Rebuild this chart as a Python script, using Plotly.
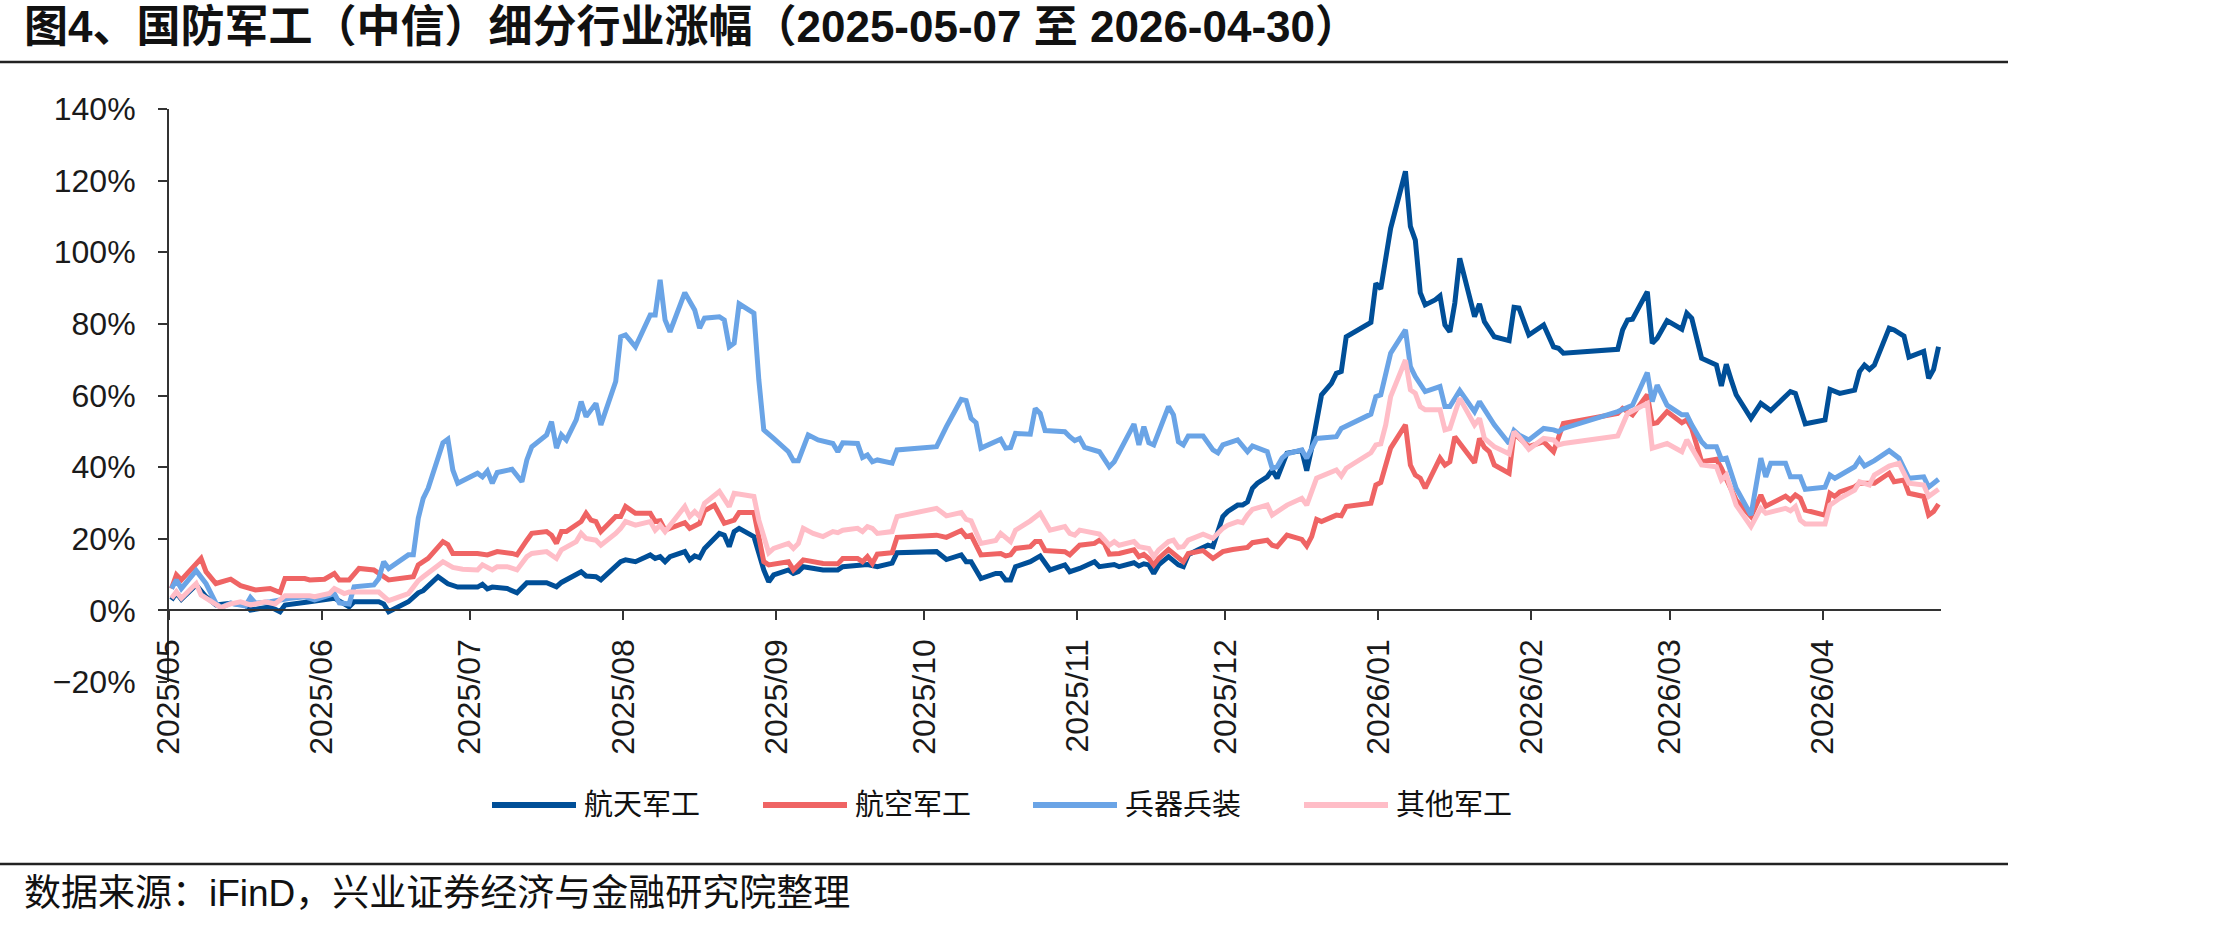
import plotly.graph_objects as go
import pandas as pd

# ---------------- data ----------------
series_names = ["航天军工", "航空军工", "兵器兵装", "其他军工"]

ht_dates = ["2025-05-07","2025-05-08","2025-05-09","2025-05-12","2025-05-14","2025-05-16","2025-05-19","2025-05-22","2025-05-23","2025-05-26","2025-05-27","2025-05-29","2025-05-30","2025-06-04","2025-06-06","2025-06-09","2025-06-11","2025-06-12","2025-06-13","2025-06-18","2025-06-19","2025-06-20","2025-06-24","2025-06-26","2025-06-27","2025-06-30","2025-07-02","2025-07-03","2025-07-04","2025-07-08","2025-07-09","2025-07-10","2025-07-11","2025-07-14","2025-07-16","2025-07-18","2025-07-22","2025-07-24","2025-07-25","2025-07-29","2025-07-30","2025-08-01","2025-08-02","2025-08-06","2025-08-07","2025-08-09","2025-08-12","2025-08-13","2025-08-14","2025-08-15","2025-08-16","2025-08-19","2025-08-20","2025-08-21","2025-08-22","2025-08-23","2025-08-26","2025-08-27","2025-08-28","2025-08-29","2025-08-30","2025-09-02","2025-09-04","2025-09-05","2025-09-06","2025-09-09","2025-09-10","2025-09-11","2025-09-12","2025-09-16","2025-09-19","2025-09-20","2025-09-23","2025-09-25","2025-09-27","2025-09-30","2025-10-01","2025-10-09","2025-10-11","2025-10-14","2025-10-15","2025-10-16","2025-10-18","2025-10-21","2025-10-22","2025-10-23","2025-10-24","2025-10-25","2025-10-28","2025-10-30","2025-11-01","2025-11-04","2025-11-05","2025-11-07","2025-11-10","2025-11-11","2025-11-14","2025-11-15","2025-11-18","2025-11-19","2025-11-20","2025-11-21","2025-11-22","2025-11-23","2025-11-25","2025-11-27","2025-11-28","2025-11-29","2025-12-01","2025-12-03","2025-12-04","2025-12-06","2025-12-07","2025-12-09","2025-12-10","2025-12-11","2025-12-12","2025-12-13","2025-12-15","2025-12-16","2025-12-17","2025-12-19","2025-12-22","2025-12-23","2025-12-24","2025-12-26","2025-12-28","2025-12-29","2025-12-30","2025-12-31","2026-01-05","2026-01-06","2026-01-07","2026-01-08","2026-01-09","2026-01-12","2026-01-13","2026-01-14","2026-01-15","2026-01-16","2026-01-18","2026-01-19","2026-01-20","2026-01-21","2026-01-22","2026-01-23","2026-01-26","2026-01-27","2026-01-28","2026-01-30","2026-02-02","2026-02-03","2026-02-04","2026-02-06","2026-02-09","2026-02-11","2026-02-12","2026-02-13","2026-02-24","2026-02-25","2026-02-26","2026-02-27","2026-03-02","2026-03-03","2026-03-04","2026-03-06","2026-03-09","2026-03-10","2026-03-11","2026-03-13","2026-03-16","2026-03-17","2026-03-18","2026-03-19","2026-03-20","2026-03-23","2026-03-25","2026-03-27","2026-03-31","2026-04-01","2026-04-02","2026-04-03","2026-04-07","2026-04-08","2026-04-10","2026-04-13","2026-04-14","2026-04-15","2026-04-16","2026-04-17","2026-04-20","2026-04-21","2026-04-23","2026-04-24","2026-04-27","2026-04-28","2026-04-29","2026-04-30"]
ht_values = [2.9,4.9,3.1,7.1,3.8,1.5,2.0,1.5,0.1,0.8,1.0,-0.4,1.5,2.4,2.9,3.4,1.8,1.0,2.4,2.4,1.8,-0.4,2.4,4.9,5.5,9.4,7.4,7.1,6.5,6.5,7.3,6.0,6.5,6.1,4.9,7.7,7.7,6.6,7.8,10.8,9.6,9.4,8.5,13.6,14.1,13.6,15.5,14.5,15.0,13.6,15.0,16.4,14.1,15.2,14.7,17.3,21.5,21.0,17.8,22.0,22.9,20.6,11.3,8.0,9.9,11.3,10.3,10.8,12.2,11.3,11.3,12.2,12.7,12.8,12.2,13.2,16.1,16.4,14.2,15.5,13.6,13.6,8.9,10.3,10.3,8.5,8.5,12.2,13.6,15.2,11.3,12.7,10.8,11.7,13.6,12.2,12.8,12.2,13.3,12.4,13.0,12.7,10.3,12.7,15.0,12.7,12.2,15.5,16.9,18.2,17.8,26.2,27.6,29.4,29.4,30.3,34.1,35.5,37.3,39.2,36.9,43.9,44.6,39.0,45.3,60.2,63.4,66.2,66.7,76.4,80.4,91.3,89.8,97.4,106.7,122.6,107.2,103.4,88.7,85.3,86.7,87.8,79.7,77.8,85.8,98.3,82.0,85.6,80.6,76.4,75.3,84.6,84.4,76.9,79.7,73.6,73.2,71.8,72.9,78.3,81.1,81.3,89.0,74.6,76.0,80.9,78.5,83.0,81.6,70.4,68.5,62.7,68.7,64.3,60.2,53.6,57.8,55.8,61.1,60.6,56.4,52.1,53.2,61.7,60.6,61.5,66.7,68.5,67.3,68.5,78.8,78.3,76.6,70.7,72.3,64.8,67.3,73.6]

hk_dates = ["2025-05-07","2025-05-08","2025-05-09","2025-05-13","2025-05-14","2025-05-16","2025-05-19","2025-05-21","2025-05-24","2025-05-27","2025-05-29","2025-05-30","2025-06-03","2025-06-04","2025-06-07","2025-06-09","2025-06-10","2025-06-12","2025-06-14","2025-06-17","2025-06-20","2025-06-23","2025-06-25","2025-06-26","2025-06-28","2025-07-01","2025-07-02","2025-07-03","2025-07-08","2025-07-10","2025-07-12","2025-07-15","2025-07-16","2025-07-18","2025-07-19","2025-07-22","2025-07-23","2025-07-24","2025-07-25","2025-07-26","2025-07-29","2025-07-30","2025-07-31","2025-08-01","2025-08-02","2025-08-05","2025-08-06","2025-08-07","2025-08-09","2025-08-12","2025-08-13","2025-08-14","2025-08-15","2025-08-19","2025-08-20","2025-08-22","2025-08-23","2025-08-25","2025-08-27","2025-08-29","2025-08-30","2025-09-02","2025-09-04","2025-09-05","2025-09-09","2025-09-10","2025-09-12","2025-09-16","2025-09-19","2025-09-20","2025-09-23","2025-09-24","2025-09-25","2025-09-26","2025-09-27","2025-09-30","2025-10-01","2025-10-09","2025-10-11","2025-10-14","2025-10-15","2025-10-16","2025-10-18","2025-10-22","2025-10-23","2025-10-24","2025-10-25","2025-10-28","2025-10-29","2025-10-30","2025-10-31","2025-11-04","2025-11-05","2025-11-07","2025-11-10","2025-11-11","2025-11-12","2025-11-13","2025-11-15","2025-11-18","2025-11-19","2025-11-20","2025-11-21","2025-11-22","2025-11-23","2025-11-25","2025-11-27","2025-11-28","2025-11-29","2025-12-02","2025-12-04","2025-12-06","2025-12-08","2025-12-09","2025-12-10","2025-12-11","2025-12-12","2025-12-15","2025-12-16","2025-12-17","2025-12-19","2025-12-22","2025-12-23","2025-12-24","2025-12-25","2025-12-26","2025-12-29","2025-12-30","2025-12-31","2026-01-05","2026-01-06","2026-01-07","2026-01-09","2026-01-12","2026-01-13","2026-01-14","2026-01-15","2026-01-16","2026-01-19","2026-01-20","2026-01-21","2026-01-22","2026-01-26","2026-01-27","2026-01-28","2026-01-29","2026-01-30","2026-02-02","2026-02-03","2026-02-06","2026-02-09","2026-02-11","2026-02-13","2026-02-24","2026-02-25","2026-02-27","2026-03-02","2026-03-03","2026-03-04","2026-03-06","2026-03-09","2026-03-10","2026-03-11","2026-03-13","2026-03-16","2026-03-17","2026-03-20","2026-03-23","2026-03-25","2026-03-26","2026-03-30","2026-03-31","2026-04-01","2026-04-02","2026-04-03","2026-04-07","2026-04-08","2026-04-09","2026-04-10","2026-04-13","2026-04-14","2026-04-17","2026-04-20","2026-04-21","2026-04-23","2026-04-24","2026-04-27","2026-04-28","2026-04-29","2026-04-30"]
hk_values = [6.1,9.9,8.5,14.5,10.8,7.5,8.7,6.9,5.7,6.1,5.0,8.9,8.9,8.5,8.7,10.3,8.5,8.5,11.7,11.3,8.5,9.2,9.4,12.7,14.5,19.2,18.4,15.9,15.9,15.5,16.4,15.9,15.5,19.6,21.5,22.0,21.0,18.7,22.0,22.0,24.8,27.1,25.2,24.8,22.0,26.2,26.2,29.0,27.1,27.1,24.8,25.0,22.4,24.5,22.9,24.3,27.8,29.4,24.3,25.2,27.3,27.3,13.6,12.7,13.6,11.3,14.1,13.1,13.0,14.5,14.5,13.6,15.0,13.1,15.7,16.1,20.4,21.0,20.4,22.3,20.6,21.0,15.5,15.9,15.2,15.5,17.3,17.8,19.2,19.2,16.7,16.4,15.5,18.2,18.7,19.6,18.7,15.7,15.9,16.9,15.0,15.6,14.5,12.7,14.5,17.0,14.8,13.6,15.9,16.7,14.5,16.4,17.0,17.3,17.6,17.6,18.9,19.6,18.2,17.8,21.0,19.8,18.0,20.6,25.4,24.8,26.6,26.4,29.0,29.9,35.0,35.7,45.3,51.8,40.6,37.8,36.9,34.1,42.5,40.6,41.5,48.5,41.2,48.0,45.5,44.3,40.6,38.3,49.4,45.7,47.1,44.3,52.2,55.0,56.4,54.6,60.2,52.1,52.4,55.5,52.4,53.2,50.8,41.5,42.2,39.7,30.8,26.2,32.2,29.1,31.9,30.8,32.2,31.3,28.0,26.6,32.7,31.8,33.1,34.5,35.5,35.5,38.3,35.9,36.4,32.7,31.8,26.6,27.6,29.7]

bq_dates = ["2025-05-07","2025-05-08","2025-05-09","2025-05-12","2025-05-14","2025-05-16","2025-05-17","2025-05-19","2025-05-22","2025-05-23","2025-05-24","2025-05-27","2025-05-31","2025-06-03","2025-06-05","2025-06-09","2025-06-10","2025-06-12","2025-06-13","2025-06-17","2025-06-18","2025-06-19","2025-06-20","2025-06-24","2025-06-25","2025-06-26","2025-06-27","2025-06-28","2025-07-01","2025-07-02","2025-07-03","2025-07-04","2025-07-08","2025-07-09","2025-07-10","2025-07-11","2025-07-12","2025-07-15","2025-07-17","2025-07-18","2025-07-19","2025-07-22","2025-07-23","2025-07-24","2025-07-25","2025-07-26","2025-07-28","2025-07-29","2025-07-30","2025-08-01","2025-08-02","2025-08-05","2025-08-06","2025-08-07","2025-08-09","2025-08-12","2025-08-13","2025-08-14","2025-08-15","2025-08-16","2025-08-19","2025-08-21","2025-08-22","2025-08-23","2025-08-26","2025-08-27","2025-08-28","2025-08-29","2025-08-30","2025-09-02","2025-09-03","2025-09-04","2025-09-06","2025-09-09","2025-09-10","2025-09-11","2025-09-13","2025-09-15","2025-09-18","2025-09-19","2025-09-20","2025-09-23","2025-09-24","2025-09-25","2025-09-26","2025-09-27","2025-09-30","2025-10-01","2025-10-09","2025-10-11","2025-10-14","2025-10-15","2025-10-16","2025-10-17","2025-10-18","2025-10-22","2025-10-23","2025-10-24","2025-10-25","2025-10-28","2025-10-29","2025-10-30","2025-10-31","2025-11-04","2025-11-05","2025-11-06","2025-11-07","2025-11-08","2025-11-11","2025-11-13","2025-11-14","2025-11-18","2025-11-19","2025-11-20","2025-11-21","2025-11-22","2025-11-25","2025-11-26","2025-11-27","2025-11-28","2025-11-29","2025-12-02","2025-12-04","2025-12-05","2025-12-06","2025-12-09","2025-12-11","2025-12-12","2025-12-15","2025-12-16","2025-12-17","2025-12-18","2025-12-19","2025-12-22","2025-12-23","2025-12-25","2025-12-29","2025-12-30","2026-01-05","2026-01-06","2026-01-07","2026-01-09","2026-01-12","2026-01-13","2026-01-14","2026-01-15","2026-01-16","2026-01-19","2026-01-20","2026-01-21","2026-01-23","2026-01-26","2026-01-27","2026-01-30","2026-02-02","2026-02-03","2026-02-04","2026-02-06","2026-02-09","2026-02-11","2026-02-12","2026-02-13","2026-02-24","2026-02-27","2026-03-02","2026-03-03","2026-03-04","2026-03-06","2026-03-09","2026-03-10","2026-03-11","2026-03-13","2026-03-14","2026-03-16","2026-03-17","2026-03-18","2026-03-20","2026-03-23","2026-03-25","2026-03-26","2026-03-27","2026-03-30","2026-03-31","2026-04-02","2026-04-03","2026-04-07","2026-04-08","2026-04-09","2026-04-11","2026-04-13","2026-04-14","2026-04-15","2026-04-17","2026-04-20","2026-04-22","2026-04-24","2026-04-27","2026-04-28","2026-04-30"]
bq_values = [6.1,8.5,6.1,11.1,7.5,2.0,0.8,2.0,1.2,3.6,2.0,2.4,3.4,3.8,2.9,4.7,2.1,1.8,6.6,7.1,8.9,13.6,11.7,15.5,15.5,25.7,31.3,34.1,46.8,47.8,39.2,35.5,38.3,37.3,38.9,35.5,38.5,39.4,35.9,42.0,45.7,49.0,52.7,45.3,49.0,47.6,53.2,58.3,54.1,57.8,51.8,63.9,76.4,76.9,73.6,82.5,82.5,92.3,81.1,77.8,88.7,83.9,78.8,81.6,82.0,81.1,73.6,74.6,85.6,83.0,64.3,50.4,48.0,44.3,41.8,41.8,49.0,47.6,46.6,44.3,46.8,46.6,42.7,43.4,41.5,42.0,41.1,44.8,45.7,51.3,58.9,58.6,53.6,52.4,45.3,47.8,45.3,45.5,49.4,49.2,56.4,55.0,50.2,49.9,48.5,47.4,48.0,45.5,44.3,40.1,41.5,52.0,46.2,51.3,46.8,46.2,56.9,54.6,47.1,46.2,48.7,48.7,44.8,44.0,46.2,47.6,44.3,45.9,44.3,39.7,40.1,42.5,43.7,44.8,42.5,48.0,48.5,50.8,54.8,59.7,60.2,71.8,78.3,68.1,65.3,63.4,61.1,62.5,56.9,56.9,61.4,55.5,58.3,51.8,46.6,50.2,49.0,47.6,50.8,50.4,49.9,50.8,55.5,57.3,66.4,58.3,62.9,57.3,54.6,54.6,51.8,47.1,45.7,45.7,42.2,42.5,34.1,26.6,42.5,37.3,41.1,41.1,37.3,37.3,33.8,34.4,37.8,36.9,38.7,40.1,42.2,40.3,41.8,44.6,42.5,36.9,37.3,34.4,36.6]

qt_dates = ["2025-05-07","2025-05-08","2025-05-09","2025-05-12","2025-05-13","2025-05-16","2025-05-17","2025-05-19","2025-05-21","2025-05-23","2025-05-26","2025-05-28","2025-05-30","2025-06-04","2025-06-05","2025-06-08","2025-06-09","2025-06-11","2025-06-12","2025-06-18","2025-06-20","2025-06-24","2025-06-26","2025-06-27","2025-07-01","2025-07-03","2025-07-05","2025-07-08","2025-07-09","2025-07-11","2025-07-12","2025-07-14","2025-07-16","2025-07-18","2025-07-19","2025-07-22","2025-07-24","2025-07-25","2025-07-28","2025-07-29","2025-07-30","2025-08-01","2025-08-02","2025-08-05","2025-08-06","2025-08-07","2025-08-09","2025-08-12","2025-08-13","2025-08-14","2025-08-15","2025-08-19","2025-08-20","2025-08-21","2025-08-22","2025-08-23","2025-08-26","2025-08-28","2025-08-29","2025-09-02","2025-09-03","2025-09-05","2025-09-06","2025-09-09","2025-09-10","2025-09-11","2025-09-12","2025-09-14","2025-09-16","2025-09-18","2025-09-19","2025-09-20","2025-09-23","2025-09-24","2025-09-25","2025-09-26","2025-09-27","2025-09-30","2025-10-01","2025-10-09","2025-10-11","2025-10-14","2025-10-15","2025-10-16","2025-10-18","2025-10-21","2025-10-22","2025-10-24","2025-10-25","2025-10-28","2025-10-30","2025-11-01","2025-11-04","2025-11-05","2025-11-06","2025-11-07","2025-11-11","2025-11-12","2025-11-13","2025-11-14","2025-11-15","2025-11-18","2025-11-19","2025-11-21","2025-11-22","2025-11-23","2025-11-25","2025-11-26","2025-11-27","2025-11-28","2025-11-29","2025-12-02","2025-12-04","2025-12-06","2025-12-07","2025-12-09","2025-12-10","2025-12-11","2025-12-12","2025-12-15","2025-12-16","2025-12-19","2025-12-22","2025-12-23","2025-12-25","2025-12-29","2025-12-30","2025-12-31","2026-01-05","2026-01-06","2026-01-07","2026-01-08","2026-01-09","2026-01-12","2026-01-13","2026-01-14","2026-01-15","2026-01-16","2026-01-19","2026-01-20","2026-01-21","2026-01-23","2026-01-26","2026-01-27","2026-01-28","2026-01-30","2026-02-02","2026-02-03","2026-02-04","2026-02-06","2026-02-09","2026-02-11","2026-02-12","2026-02-13","2026-02-24","2026-02-26","2026-03-02","2026-03-03","2026-03-06","2026-03-09","2026-03-10","2026-03-11","2026-03-13","2026-03-16","2026-03-17","2026-03-18","2026-03-20","2026-03-23","2026-03-25","2026-03-26","2026-03-30","2026-03-31","2026-04-01","2026-04-02","2026-04-03","2026-04-07","2026-04-08","2026-04-10","2026-04-13","2026-04-14","2026-04-16","2026-04-17","2026-04-20","2026-04-22","2026-04-24","2026-04-27","2026-04-28","2026-04-30"]
qt_values = [3.4,5.2,3.4,7.5,4.3,1.5,0.8,1.8,2.4,1.5,2.4,1.8,4.1,4.1,3.8,4.7,6.1,4.7,5.1,5.1,2.7,4.7,8.3,9.4,13.6,12.0,11.5,11.3,12.7,11.3,12.2,12.2,11.3,15.0,15.9,16.4,14.5,16.9,19.2,21.5,20.1,19.6,18.2,21.5,22.9,24.8,23.8,24.8,22.4,23.8,22.0,29.0,26.2,27.6,26.2,29.9,33.2,29.0,32.7,31.8,25.2,16.1,17.3,18.7,17.3,18.7,22.9,21.5,20.6,22.0,21.7,22.4,22.9,22.0,23.4,22.9,21.5,22.0,26.2,28.5,26.4,27.3,25.4,25.0,18.7,19.5,21.5,19.2,22.4,25.0,27.1,22.4,23.4,21.5,21.0,22.4,21.3,19.8,18.2,19.2,18.2,19.2,17.8,17.3,15.0,16.9,19.2,19.6,17.6,17.8,19.6,21.3,20.1,22.9,23.8,24.8,24.5,26.6,28.2,29.4,26.6,29.4,31.3,29.4,36.9,39.2,37.5,39.7,44.0,46.2,46.5,51.8,59.7,69.9,61.6,60.6,56.9,56.0,56.0,50.4,50.8,59.2,51.8,53.6,48.0,45.7,43.7,49.9,48.5,45.0,48.0,47.6,46.2,46.6,48.7,55.0,57.8,45.3,46.6,44.3,47.6,45.3,40.6,40.1,36.4,37.8,29.4,23.4,28.5,27.1,28.5,27.8,29.0,25.2,24.1,24.1,29.4,31.3,33.6,35.9,35.0,37.8,40.3,41.1,35.5,35.0,31.8,33.8]

x_tick_dates = ["2025-05-07","2025-06-07","2025-07-07","2025-08-07","2025-09-07","2025-10-07",
                "2025-11-07","2025-12-07","2026-01-07","2026-02-07","2026-03-07","2026-04-07"]
y_ticks = [-20, 0, 20, 40, 60, 80, 100, 120, 140]
y_tick_labels = ["\u221220%", "0%", "20%", "40%", "60%", "80%", "100%", "120%", "140%"]

title_text = "图4、国防军工（中信）细分行业涨幅（2025-05-07 至 2026-04-30）"
source_text = "数据来源：iFinD，兴业证券经济与金融研究院整理"

# ---------------- styling / layout ----------------
colors = ["#004F98", "#EF6464", "#6AA4E6", "#FFBDC7"]
FONT = "Liberation Sans, Arial, Noto Sans CJK SC, sans-serif"
W, H = 2221, 925
PL, PR, PT, PB = 169, 1941, 109, 682   # plot area in pixels


def px_x(px):
    return (px - PL) / (PR - PL)


def px_y(py):
    return (PB - py) / (PB - PT)


fig = go.Figure()
all_dates = [ht_dates, hk_dates, bq_dates, qt_dates]
all_vals = [ht_values, hk_values, bq_values, qt_values]
for name, dts, vals, col in zip(series_names, all_dates, all_vals, colors):
    x = pd.to_datetime(dts) + pd.Timedelta(hours=12)
    fig.add_trace(go.Scatter(x=x, y=vals, mode="lines", name=name,
                             line=dict(color=col, width=5), showlegend=False))

zero_pos = (0 - y_ticks[0]) / (y_ticks[-1] - y_ticks[0])

fig.update_layout(
    width=W, height=H,
    margin=dict(l=PL, r=W - PR, t=PT, b=H - PB, pad=0),
    paper_bgcolor="white", plot_bgcolor="white",
    font=dict(family=FONT, color="#1a1a1a"),
    xaxis=dict(
        type="date", range=["2025-05-07", "2026-05-01"],
        tickvals=x_tick_dates, tickformat="%Y/%m", tickangle=-90,
        ticks="outside", ticklen=9, tickwidth=2, tickcolor="#333",
        showline=True, linecolor="#333", linewidth=2,
        showgrid=False, zeroline=False,
        anchor="free", position=zero_pos,
        tickfont=dict(size=32, family=FONT, color="#1a1a1a"),
        ticklabelstandoff=6,
    ),
    yaxis=dict(
        range=[y_ticks[0], y_ticks[-1]], tickvals=y_ticks, ticktext=y_tick_labels,
        ticks="outside", ticklen=9, tickwidth=2, tickcolor="#333",
        showline=True, linecolor="#333", linewidth=2,
        showgrid=False, zeroline=False,
        tickfont=dict(size=32, family=FONT, color="#1a1a1a"),
        ticklabelstandoff=16,
    ),
)

shapes = []
annotations = []
# title + rules
annotations.append(dict(text="<b>" + title_text + "</b>", xref="paper", yref="paper",
                        x=px_x(22), y=px_y(26), xanchor="left", yanchor="middle",
                        showarrow=False, font=dict(size=44, family=FONT, color="#111")))
for yy in (62, 864):
    shapes.append(dict(type="line", xref="paper", yref="paper",
                       x0=px_x(0), x1=px_x(2008), y0=px_y(yy), y1=px_y(yy),
                       line=dict(color="#222", width=2.5)))
annotations.append(dict(text=source_text, xref="paper", yref="paper",
                        x=px_x(22), y=px_y(893), xanchor="left", yanchor="middle",
                        showarrow=False, font=dict(size=37, family=FONT, color="#111")))
# legend
leg_y = 805
leg_x = [492, 763, 1033, 1304]
for name, col, lx in zip(series_names, colors, leg_x):
    shapes.append(dict(type="line", xref="paper", yref="paper",
                       x0=px_x(lx), x1=px_x(lx + 84), y0=px_y(leg_y), y1=px_y(leg_y),
                       line=dict(color=col, width=6)))
    annotations.append(dict(text=name, xref="paper", yref="paper",
                            x=px_x(lx + 90), y=px_y(leg_y), xanchor="left", yanchor="middle",
                            showarrow=False, font=dict(size=29, family=FONT, color="#111")))

fig.update_layout(shapes=shapes, annotations=annotations)
fig.write_html("out.html")
